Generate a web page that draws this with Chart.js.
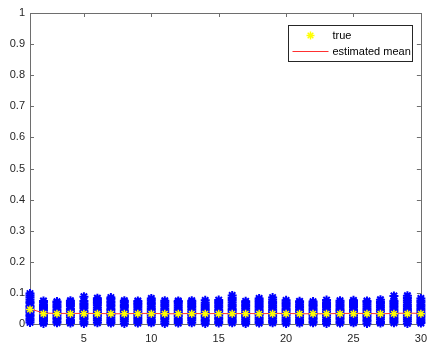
<!DOCTYPE html>
<html>
<head>
<meta charset="utf-8">
<script src="https://cdn.jsdelivr.net/npm/chart.js@4/dist/chart.umd.min.js"></script>
<style>
  html, body { margin: 0; padding: 0; background: #fff; }
  #wrap { width: 435px; height: 344px; }
</style>
</head>
<body>
<div id="wrap"><canvas id="chart"></canvas></div>
<script>
// x positions (1..30)
const xValues = [1, 2, 3, 4, 5, 6, 7, 8, 9, 10, 11, 12, 13, 14, 15, 16, 17, 18, 19, 20, 21, 22, 23, 24, 25, 26, 27, 28, 29, 30];

const trueValues = [0.047, 0.033, 0.033, 0.033, 0.033, 0.033, 0.033, 0.033, 0.033, 0.033, 0.033, 0.033, 0.033, 0.033, 0.033,
  0.033, 0.033, 0.033, 0.033, 0.033, 0.033, 0.033, 0.033, 0.033, 0.033, 0.033, 0.033, 0.033, 0.033, 0.033];

const meanValues = [0.049, 0.035, 0.034, 0.034, 0.034, 0.034, 0.033, 0.033, 0.034, 0.034, 0.033, 0.033, 0.034, 0.033, 0.034,
  0.033, 0.034, 0.033, 0.034, 0.034, 0.033, 0.033, 0.033, 0.034, 0.034, 0.034, 0.033, 0.034, 0.035, 0.034];

// blue samples, one list per x position
const sampleColumns = [
  [0.005, 0.011, 0.017, 0.024, 0.029, 0.036, 0.041, 0.047, 0.053, 0.058, 0.066, 0.071, 0.078, 0.085, 0.092, 0.098],
  [0.002, 0.008, 0.013, 0.019, 0.026, 0.031, 0.037, 0.044, 0.049, 0.055, 0.061, 0.068, 0.074],
  [0.004, 0.009, 0.016, 0.021, 0.027, 0.034, 0.039, 0.045, 0.052, 0.057, 0.063, 0.069, 0.072],
  [0.003, 0.010, 0.014, 0.022, 0.028, 0.033, 0.040, 0.046, 0.050, 0.058, 0.064, 0.070, 0.075],
  [0.002, 0.007, 0.015, 0.020, 0.026, 0.032, 0.038, 0.043, 0.051, 0.056, 0.062, 0.067, 0.074, 0.088],
  [0.004, 0.011, 0.017, 0.023, 0.029, 0.035, 0.041, 0.047, 0.053, 0.060, 0.066, 0.071, 0.077, 0.083],
  [0.003, 0.008, 0.014, 0.020, 0.027, 0.032, 0.038, 0.045, 0.050, 0.057, 0.062, 0.068, 0.073, 0.080, 0.085],
  [0.002, 0.009, 0.015, 0.021, 0.026, 0.033, 0.039, 0.044, 0.052, 0.058, 0.063, 0.070, 0.075],
  [0.003, 0.010, 0.016, 0.022, 0.028, 0.034, 0.040, 0.047, 0.053, 0.059, 0.064, 0.069, 0.074],
  [0.004, 0.009, 0.014, 0.021, 0.027, 0.033, 0.039, 0.046, 0.051, 0.057, 0.064, 0.070, 0.076, 0.082],
  [0.002, 0.008, 0.015, 0.020, 0.026, 0.032, 0.038, 0.044, 0.050, 0.057, 0.063, 0.069, 0.075],
  [0.003, 0.010, 0.016, 0.023, 0.028, 0.035, 0.041, 0.046, 0.052, 0.059, 0.065, 0.071, 0.074],
  [0.004, 0.011, 0.017, 0.022, 0.029, 0.034, 0.040, 0.047, 0.053, 0.058, 0.064, 0.070, 0.075],
  [0.002, 0.008, 0.013, 0.020, 0.026, 0.033, 0.038, 0.045, 0.051, 0.056, 0.062, 0.068, 0.076],
  [0.003, 0.009, 0.016, 0.021, 0.028, 0.034, 0.041, 0.046, 0.053, 0.059, 0.065, 0.071, 0.077],
  [0.004, 0.010, 0.015, 0.022, 0.027, 0.033, 0.039, 0.045, 0.050, 0.057, 0.063, 0.070, 0.077, 0.084, 0.092],
  [0.002, 0.007, 0.014, 0.020, 0.026, 0.032, 0.038, 0.044, 0.051, 0.057, 0.062, 0.068, 0.073],
  [0.003, 0.009, 0.015, 0.021, 0.028, 0.034, 0.040, 0.046, 0.052, 0.058, 0.064, 0.071, 0.076, 0.082],
  [0.004, 0.010, 0.017, 0.023, 0.029, 0.035, 0.041, 0.047, 0.053, 0.059, 0.065, 0.071, 0.078, 0.085],
  [0.002, 0.008, 0.014, 0.020, 0.027, 0.033, 0.039, 0.045, 0.051, 0.058, 0.064, 0.070, 0.076],
  [0.003, 0.010, 0.015, 0.022, 0.028, 0.034, 0.040, 0.046, 0.052, 0.057, 0.063, 0.069, 0.073],
  [0.004, 0.009, 0.016, 0.021, 0.027, 0.032, 0.038, 0.044, 0.050, 0.056, 0.061, 0.067, 0.072],
  [0.002, 0.008, 0.014, 0.021, 0.027, 0.033, 0.039, 0.046, 0.052, 0.058, 0.064, 0.070, 0.077],
  [0.003, 0.009, 0.016, 0.022, 0.028, 0.034, 0.040, 0.045, 0.051, 0.057, 0.063, 0.069, 0.075],
  [0.004, 0.010, 0.015, 0.021, 0.027, 0.033, 0.039, 0.045, 0.052, 0.058, 0.064, 0.071, 0.076],
  [0.002, 0.009, 0.014, 0.020, 0.026, 0.032, 0.038, 0.044, 0.050, 0.056, 0.063, 0.069, 0.074],
  [0.003, 0.008, 0.015, 0.022, 0.028, 0.034, 0.041, 0.047, 0.053, 0.059, 0.065, 0.071, 0.078],
  [0.004, 0.010, 0.016, 0.022, 0.028, 0.034, 0.040, 0.046, 0.052, 0.058, 0.064, 0.070, 0.075, 0.090],
  [0.002, 0.009, 0.015, 0.021, 0.027, 0.033, 0.039, 0.045, 0.051, 0.057, 0.063, 0.070, 0.076, 0.084, 0.091],
  [0.003, 0.008, 0.014, 0.020, 0.026, 0.032, 0.038, 0.044, 0.050, 0.056, 0.062, 0.069, 0.075, 0.082]
];

const xTicks = [5, 10, 15, 20, 25, 30];
const yTicks = [0, 0.1, 0.2, 0.3, 0.4, 0.5, 0.6, 0.7, 0.8, 0.9, 1];

const axisColor = "#262626";
const fontSpec = { family: "'Liberation Sans', Arial, sans-serif", size: 11 };

const samplePoints = [];
sampleColumns.forEach((col, i) => {
  col.forEach((v) => samplePoints.push({ x: xValues[i], y: v }));
});

// MATLAB style box with inward ticks
const axesBox = {
  id: "axesBox",
  beforeDatasetsDraw(chart) {
    const { ctx, chartArea: a, scales } = chart;
    ctx.save();
    ctx.strokeStyle = "#6e6e6e";
    ctx.lineWidth = 1;
    ctx.beginPath();
    ctx.rect(Math.round(a.left) + 0.5, Math.round(a.top) + 0.5, Math.round(a.right - a.left), Math.round(a.bottom - a.top));
    xTicks.forEach((v) => {
      const px = Math.round(scales.x.getPixelForValue(v)) + 0.5;
      ctx.moveTo(px, a.bottom);
      ctx.lineTo(px, a.bottom - 4);
      ctx.moveTo(px, a.top);
      ctx.lineTo(px, a.top + 4);
    });
    yTicks.forEach((v) => {
      const py = Math.round(scales.y.getPixelForValue(v)) + 0.5;
      ctx.moveTo(a.left, py);
      ctx.lineTo(a.left + 4, py);
      ctx.moveTo(a.right, py);
      ctx.lineTo(a.right - 4, py);
    });
    ctx.stroke();
    ctx.restore();
  },
};

// legend box in the upper right corner
const boxLegend = {
  id: "boxLegend",
  afterDraw(chart) {
    const ctx = chart.ctx;
    const x0 = 288.5, y0 = 25.5, w = 124, h = 36;
    ctx.save();
    ctx.fillStyle = "#fff";
    ctx.fillRect(x0, y0, w, h);
    ctx.strokeStyle = "#262626";
    ctx.lineWidth = 1;
    ctx.strokeRect(x0, y0, w, h);

    // true marker
    const sx = x0 + 22, sy = y0 + 10;
    ctx.strokeStyle = "#ffff00";
    ctx.lineWidth = 1.5;
    ctx.beginPath();
    for (let k = 0; k < 4; k++) {
      const ang = (k * Math.PI) / 4;
      ctx.moveTo(sx - 4 * Math.cos(ang), sy - 4 * Math.sin(ang));
      ctx.lineTo(sx + 4 * Math.cos(ang), sy + 4 * Math.sin(ang));
    }
    ctx.stroke();

    // mean line
    ctx.strokeStyle = "#ff3030";
    ctx.lineWidth = 1;
    ctx.beginPath();
    ctx.moveTo(x0 + 4, y0 + 26);
    ctx.lineTo(x0 + 40, y0 + 26);
    ctx.stroke();

    ctx.fillStyle = "#000";
    ctx.font = "11px 'Liberation Sans', Arial, sans-serif";
    ctx.textBaseline = "middle";
    ctx.fillText("true", x0 + 44, sy);
    ctx.fillText("estimated mean", x0 + 44, y0 + 26);
    ctx.restore();
  },
};

new Chart(document.getElementById("chart"), {
  type: "scatter",
  data: {
    datasets: [
      {
        label: "true",
        data: xValues.map((x, i) => ({ x: x, y: trueValues[i] })),
        pointStyle: "star",
        pointRadius: 4,
        borderWidth: 1.5,
        borderColor: "#ffff00",
        backgroundColor: "#ffff00",
        order: 0,
        clip: false,
      },
      {
        label: "estimated mean",
        data: xValues.map((x, i) => ({ x: x, y: meanValues[i] })),
        showLine: true,
        pointRadius: 0,
        borderWidth: 1,
        borderColor: "#ff3030",
        order: 1,
        clip: false,
      },
      {
        label: "samples",
        data: samplePoints,
        pointStyle: "star",
        pointRadius: 4.5,
        borderWidth: 2,
        borderColor: "#0000ff",
        backgroundColor: "#0000ff",
        order: 2,
        clip: false,
      },
    ],
  },
  options: {
    responsive: true,
    maintainAspectRatio: false,
    animation: false,
    devicePixelRatio: 1,
    layout: { padding: { top: 13, right: 11, left: 0, bottom: 0 } },
    plugins: {
      legend: { display: false },
      tooltip: { enabled: false },
    },
    scales: {
      x: {
        type: "linear",
        min: 1,
        max: 30,
        afterBuildTicks: (s) => {
          s.ticks = xTicks.map((v) => ({ value: v }));
        },
        afterFit: (s) => {
          s.height = 20;
        },
        grid: { display: false, drawTicks: false },
        border: { display: false },
        ticks: { color: axisColor, font: fontSpec, padding: 8, maxRotation: 0 },
      },
      y: {
        min: 0,
        max: 1,
        afterBuildTicks: (s) => {
          s.ticks = yTicks.map((v) => ({ value: v }));
        },
        afterFit: (s) => {
          s.width = 30;
        },
        grid: { display: false, drawTicks: false },
        border: { display: false },
        ticks: { color: axisColor, font: fontSpec, padding: 5, callback: (v) => String(v) },
      },
    },
  },
  plugins: [axesBox, boxLegend],
});
</script>
</body>
</html>
